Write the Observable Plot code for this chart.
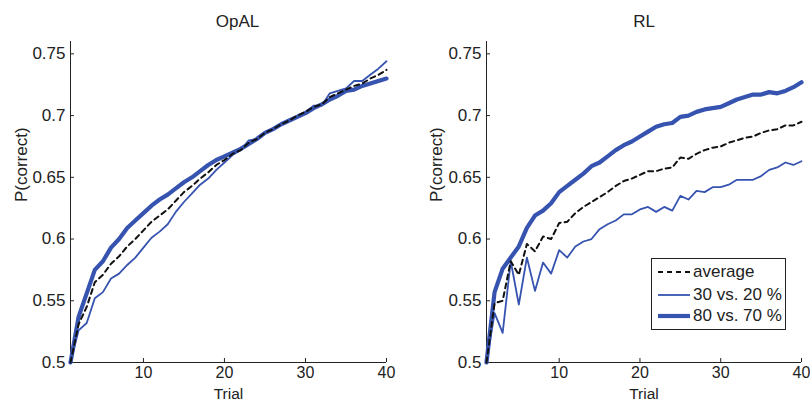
<!DOCTYPE html>
<html>
<head>
<meta charset="utf-8">
<script src="https://cdn.jsdelivr.net/npm/d3@7"></script>
<script src="https://cdn.jsdelivr.net/npm/@observablehq/plot@0.6"></script>
<style>
  html, body { margin: 0; padding: 0; background: #fff; }
  #wrap { position: relative; width: 810px; height: 401px; display: flex; font-family: "Liberation Sans", Arial, Helvetica, sans-serif; }
  #legend { position: absolute; left: 651px; top: 258px; width: 133px; height: 70px; border: 1.5px solid #222; background: #fff; box-sizing: content-box; }
  #legend .row { position: absolute; left: 0; height: 20px; display: flex; align-items: center; font-size: 17px; color: #222; }
  #legend svg { margin-left: 6px; margin-right: 3px; }
</style>
</head>
<body>
<div id="wrap"><div id="legend"></div></div>
<script>
// ---- data ----
const trials = d3.range(1, 41);

const panelTitles = ["OpAL", "RL"];
const seriesNames = ["average", "30 vs. 20 %", "80 vs. 70 %"];

const opalAverage = [0.5, 0.531, 0.545, 0.565, 0.571, 0.58, 0.586, 0.594, 0.6, 0.607,
  0.614, 0.619, 0.624, 0.631, 0.638, 0.643, 0.649, 0.654, 0.66, 0.664,
  0.669, 0.672, 0.678, 0.681, 0.686, 0.689, 0.693, 0.696, 0.7, 0.703,
  0.707, 0.709, 0.715, 0.718, 0.721, 0.724, 0.726, 0.73, 0.733, 0.737];
const opal3020 = [0.5, 0.526, 0.532, 0.552, 0.557, 0.568, 0.572, 0.579, 0.585, 0.593,
  0.601, 0.606, 0.612, 0.622, 0.63, 0.637, 0.644, 0.649, 0.656, 0.662,
  0.668, 0.672, 0.68, 0.681, 0.686, 0.689, 0.693, 0.696, 0.7, 0.703,
  0.708, 0.708, 0.718, 0.72, 0.722, 0.728, 0.728, 0.733, 0.738, 0.744];
const opal8070 = [0.5, 0.537, 0.556, 0.575, 0.582, 0.593, 0.6, 0.609, 0.615, 0.621,
  0.627, 0.632, 0.636, 0.641, 0.646, 0.65, 0.655, 0.66, 0.664, 0.667,
  0.67, 0.673, 0.677, 0.681, 0.686, 0.689, 0.693, 0.696, 0.699, 0.702,
  0.706, 0.709, 0.713, 0.716, 0.72, 0.721, 0.724, 0.726, 0.728, 0.73];

const rlAverage = [0.5, 0.548, 0.55, 0.582, 0.571, 0.596, 0.59, 0.602, 0.6, 0.613,
  0.614, 0.621, 0.626, 0.63, 0.634, 0.638, 0.643, 0.647, 0.649, 0.652,
  0.655, 0.655, 0.657, 0.658, 0.666, 0.665, 0.669, 0.672, 0.674, 0.675,
  0.678, 0.68, 0.682, 0.683, 0.686, 0.688, 0.689, 0.692, 0.692, 0.695];
const rl3020 = [0.5, 0.54, 0.524, 0.582, 0.547, 0.585, 0.558, 0.581, 0.572, 0.591,
  0.585, 0.594, 0.598, 0.6, 0.608, 0.612, 0.615, 0.62, 0.62, 0.624,
  0.626, 0.622, 0.626, 0.623, 0.635, 0.632, 0.639, 0.638, 0.642, 0.642,
  0.644, 0.648, 0.648, 0.648, 0.651, 0.656, 0.658, 0.662, 0.66, 0.663];
const rl8070 = [0.5, 0.557, 0.576, 0.585, 0.594, 0.609, 0.619, 0.623, 0.629, 0.638,
  0.643, 0.648, 0.653, 0.659, 0.662, 0.667, 0.672, 0.676, 0.679, 0.683,
  0.687, 0.691, 0.693, 0.694, 0.699, 0.7, 0.703, 0.705, 0.706, 0.707,
  0.71, 0.713, 0.715, 0.717, 0.717, 0.719, 0.718, 0.72, 0.723, 0.727];

const xTicks = [10, 20, 30, 40];
const xTickLabels = ["10", "20", "30", "40"];
const yTicks = [0.5, 0.55, 0.6, 0.65, 0.7, 0.75];
const yTickLabels = ["0.5", "0.55", "0.6", "0.65", "0.7", "0.75"];
const xLabel = "Trial";
const yLabel = "P(correct)";

// ---- styling ----
const BLUE = "#3653b0";
const DARK = "#111";
const FONT = "'Liberation Sans', Arial, Helvetica, sans-serif";
const seriesStyle = [
  {stroke: DARK, strokeWidth: 2, strokeDasharray: "5,4"},
  {stroke: BLUE, strokeWidth: 1.8},
  {stroke: BLUE, strokeWidth: 4.2}
];

function rows(values) { return trials.map((t, i) => ({t, v: values[i]})); }

function panel(title, series, opts) {
  const [avg, s3020, s8070] = series.map(rows);
  return Plot.plot({
    width: 405,
    height: 401,
    marginLeft: opts.marginLeft,
    marginRight: opts.marginRight,
    marginTop: 41,
    marginBottom: 39,
    style: {fontFamily: FONT, fontSize: "17px", color: "#222", background: "white", overflow: "visible"},
    x: {domain: [1, 40]},
    y: {domain: [0.5, 0.76]},
    marks: [
      Plot.ruleX([1], {stroke: "#222", strokeWidth: 1}),
      Plot.ruleY([0.5], {stroke: "#222", strokeWidth: 1}),
      Plot.axisY(yTicks, {tickSize: -4, tickPadding: 9, tickFormat: d => yTickLabels[yTicks.indexOf(d)], label: null, stroke: "#222"}),
      Plot.axisX(xTicks, {tickSize: -4, tickPadding: 8, fontSize: 16, tickFormat: d => xTickLabels[xTicks.indexOf(d)], label: null, stroke: "#222"}),
      Plot.lineY(s8070, {x: "t", y: "v", ...seriesStyle[2]}),
      Plot.lineY(s3020, {x: "t", y: "v", ...seriesStyle[1]}),
      Plot.lineY(avg, {x: "t", y: "v", ...seriesStyle[0]}),
      Plot.text([title], {frameAnchor: "top", dy: -20, dx: opts.titleDx, lineAnchor: "middle", fontSize: 17, fill: "#222"}),
      Plot.text([xLabel], {frameAnchor: "bottom", dy: 31.5, lineAnchor: "middle", fontSize: 15.5, fill: "#222"}),
      Plot.text([yLabel], {frameAnchor: "left", dx: opts.yLabelDx, rotate: -90, lineAnchor: "middle", fontSize: 17, fill: "#222"})
    ]
  });
}

const wrap = document.getElementById("wrap");
wrap.insertBefore(panel(panelTitles[0], [opalAverage, opal3020, opal8070], {marginLeft: 70, marginRight: 19, titleDx: 9, yLabelDx: -49}), document.getElementById("legend"));
wrap.insertBefore(panel(panelTitles[1], [rlAverage, rl3020, rl8070], {marginLeft: 81, marginRight: 9, titleDx: 0, yLabelDx: -50}), document.getElementById("legend"));

// legend (HTML overlay)
const legend = document.getElementById("legend");
const rowTops = [3, 26, 47];
seriesNames.forEach((name, i) => {
  const row = document.createElement("div");
  row.className = "row";
  row.style.top = rowTops[i] + "px";
  const s = seriesStyle[i];
  row.innerHTML = `<svg width="32" height="10"><line x1="0" x2="32" y1="5" y2="5" stroke="${s.stroke}" stroke-width="${s.strokeWidth}" ${s.strokeDasharray ? `stroke-dasharray="${s.strokeDasharray}"` : ""}/></svg><span>${name}</span>`;
  legend.appendChild(row);
});
</script>
</body>
</html>
